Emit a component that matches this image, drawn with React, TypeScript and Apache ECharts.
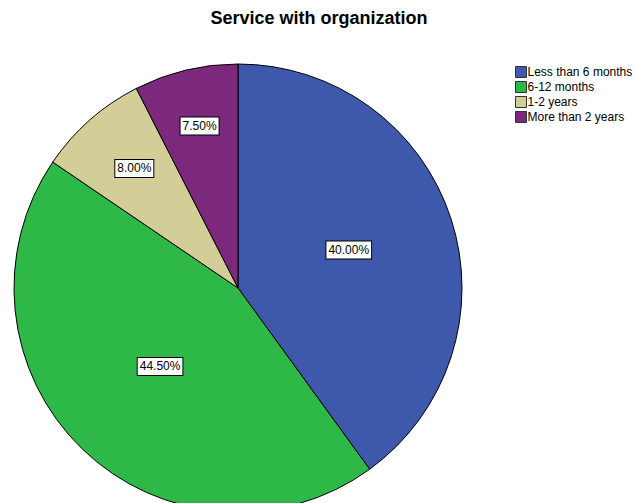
import React, { useEffect, useRef } from "react";
import * as echarts from "echarts";

const categories = ["Less than 6 months", "6-12 months", "1-2 years", "More than 2 years"];
const values = [40.0, 44.5, 8.0, 7.5];
const colors = ["#3E58AC", "#2EB848", "#D3CE97", "#7B287D"];
const labelRadiusFrac = [0.52, 0.5, 0.7, 0.735];

const CX = 238;
const CY = 288;
const R = 224;

export default function App() {
  const ref = useRef<HTMLDivElement>(null);
  useEffect(() => {
    document.body.style.margin = "0";
    const chart = echarts.init(ref.current!, null, { renderer: "svg" });
    const total = values.reduce((a, b) => a + b, 0);
    const mids: number[] = [];
    let cum = 0;
    values.forEach((v) => {
      mids.push(((cum + v / 2) / total) * 2 * Math.PI);
      cum += v;
    });
    chart.setOption({
      animation: false,
      backgroundColor: "#ffffff",
      title: {
        text: "Service with organization",
        left: 319,
        textAlign: "center",
        top: 9,
        padding: 0,
        textStyle: { fontFamily: "Liberation Sans, Arial", fontSize: 18, fontWeight: "bold", color: "#000" },
      },
      legend: {
        orient: "vertical",
        left: 515,
        top: 66,
        padding: 0,
        itemWidth: 11,
        itemHeight: 11,
        itemGap: 3,
        icon: "rect",
        selectedMode: false,
        textStyle: { fontFamily: "Liberation Sans, Arial", fontSize: 12, color: "#000", padding: [0, 0, 0, -4] },
        itemStyle: { borderColor: "#333", borderWidth: 1 },
        data: categories,
      },
      series: [
        {
          type: "pie",
          center: [CX, CY],
          radius: R,
          startAngle: 90,
          clockwise: true,
          color: colors,
          itemStyle: { borderColor: "#000", borderWidth: 1 },
          label: {
            show: true,
            position: "inside",
            formatter: (p: any) => p.value.toFixed(2) + "%",
            fontFamily: "Liberation Sans, Arial",
            fontSize: 12,
            color: "#000",
            backgroundColor: "#fff",
            borderColor: "#000",
            borderWidth: 1,
            padding: [3, 2, 2, 2],
            align: "center",
            verticalAlign: "middle",
          },
          labelLayout: (params: any) => {
            const i = params.dataIndex;
            const a = mids[i];
            const rr = R * labelRadiusFrac[i];
            return { x: CX + rr * Math.sin(a), y: CY - rr * Math.cos(a) - 2 };
          },
          emphasis: { disabled: true },
          data: categories.map((c, i) => ({ name: c, value: values[i] })),
        },
      ],
    });
    return () => chart.dispose();
  }, []);
  return <div ref={ref} style={{ position: "absolute", left: 0, top: 0, width: 636, height: 503 }} />;
}
